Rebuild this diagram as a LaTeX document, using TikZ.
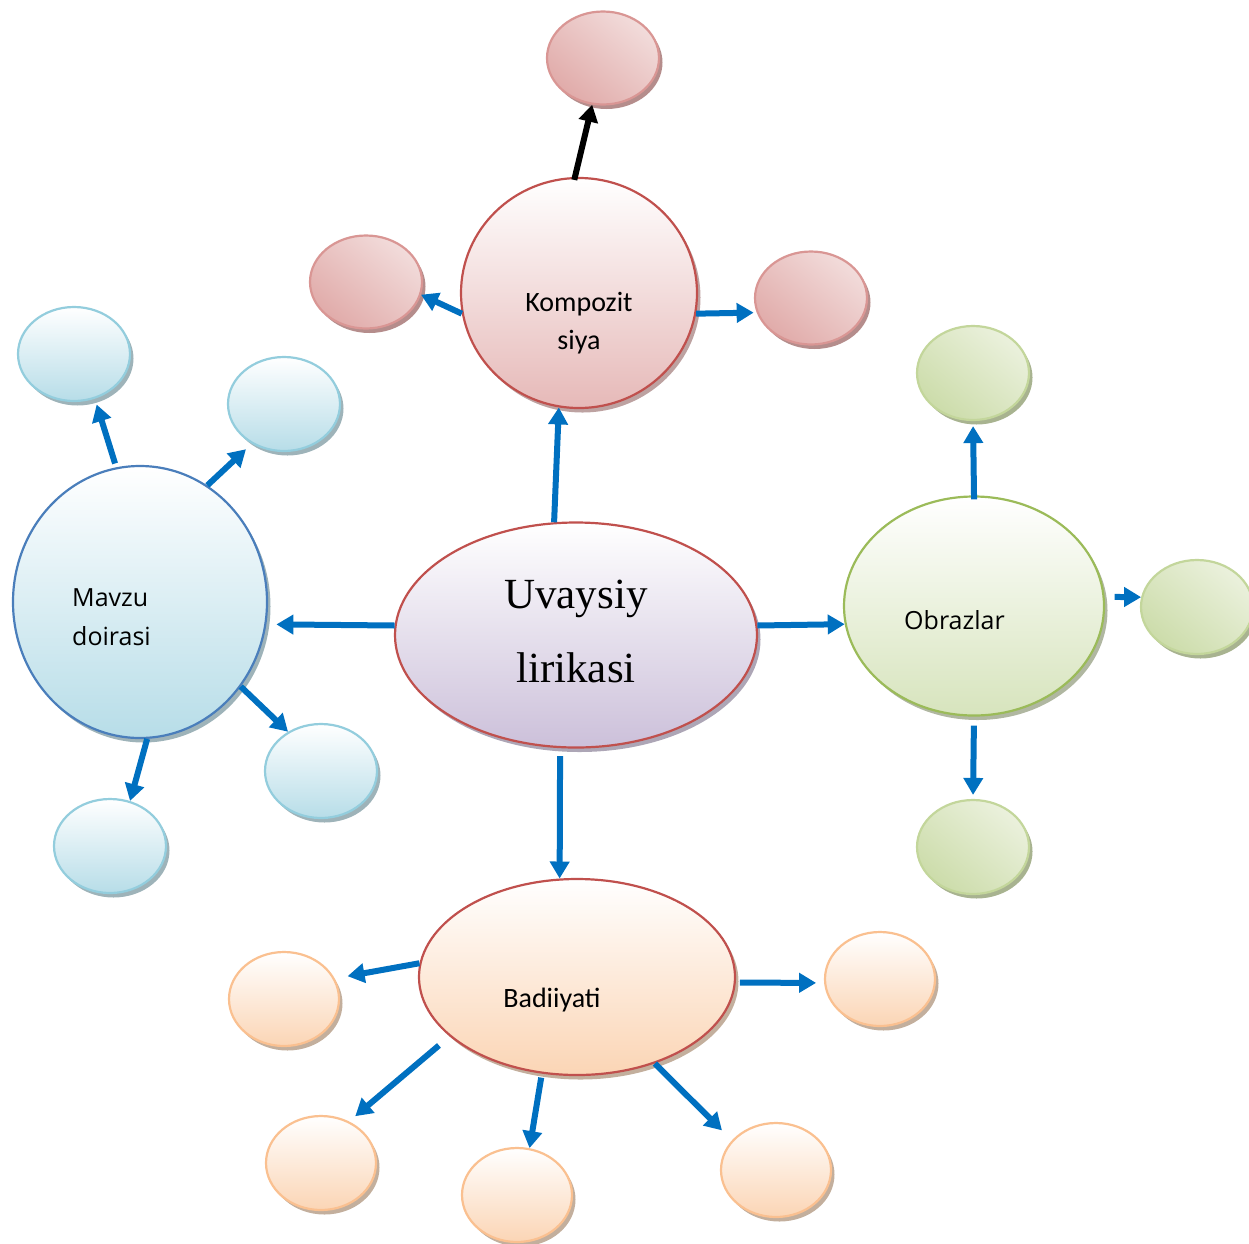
\documentclass[tikz,border=0pt]{standalone}
\usepackage{fontspec}
\setmainfont{Liberation Serif}
\newfontfamily\calfont{Carlito}
\newfontfamily\opfont{Open Sans}
\usetikzlibrary{shapes.geometric,arrows.meta,shadows}
\definecolor{redline}{HTML}{C0504D}
\definecolor{arrblue}{HTML}{0070C0}
\definecolor{lavender}{HTML}{CCC0DA}
\definecolor{pinkbot}{HTML}{E6B9B8}
\definecolor{pinklight}{HTML}{F2DCDB}
\definecolor{pinkdark}{HTML}{D99694}
\definecolor{blueline}{HTML}{4A7EBB}
\definecolor{bluebot}{HTML}{B7DDE8}
\definecolor{bluesm}{HTML}{93CDDD}
\definecolor{greenline}{HTML}{9BBB59}
\definecolor{greenbot}{HTML}{D7E4BD}
\definecolor{greenlight}{HTML}{EBF1DD}
\definecolor{greendark}{HTML}{C3D69B}
\definecolor{orbot}{HTML}{FBD5B5}
\definecolor{orline}{HTML}{FAC090}
\tikzset{
  blob/.style={ellipse, inner sep=0pt, line width=2.2pt},
  sh/.style={drop shadow={shadow xshift=3.5pt, shadow yshift=-4.5pt, fill=#1, opacity=1}},
  centernode/.style={blob, minimum width=362pt, minimum height=225pt, draw=redline,
     top color=white, bottom color=lavender, sh=lavender!60!gray},
  kompnode/.style={blob, minimum width=236pt, minimum height=230pt, draw=redline,
     top color=white, bottom color=pinkbot, sh=pinkbot!60!gray},
  pinksmall/.style={blob, minimum width=112pt, minimum height=93pt, draw=pinkdark,
     top color=pinklight, bottom color=pinkdark!80, shading angle=-40, sh=pinkdark!60!gray},
  mavnode/.style={blob, minimum width=254pt, minimum height=272pt, draw=blueline,
     top color=white, bottom color=bluebot, sh=bluebot!55!gray},
  bluesmall/.style={blob, minimum width=112pt, minimum height=94pt, draw=bluesm,
     top color=white, bottom color=bluebot, sh=bluebot!55!gray},
  obrnode/.style={blob, minimum width=260pt, minimum height=219pt, draw=greenline,
     top color=white, bottom color=greenbot, sh=greenbot!55!gray},
  greensmall/.style={blob, minimum width=112pt, minimum height=94pt, draw=greendark,
     top color=greenlight, bottom color=greendark!85, shading angle=-40, sh=greendark!60!gray},
  badnode/.style={blob, minimum width=316pt, minimum height=196pt, draw=redline,
     top color=white, bottom color=orbot, sh=orbot!55!gray},
  orsmall/.style={blob, minimum width=110pt, minimum height=94pt, draw=orline,
     top color=white, bottom color=orbot, sh=orbot!55!gray},
  arr/.style={line width=6pt, draw=arrblue, -{Triangle[length=17pt,width=19pt]}},
  blackarr/.style={line width=6pt, draw=black, -{Triangle[length=17pt,width=19pt]}},
  lbl/.style={inner sep=0pt},
}
\begin{document}
\begin{tikzpicture}[x=1pt,y=-1pt]
\useasboundingbox (0,0) rectangle (1249,1243);
\clip (0,0) rectangle (1249,1243);

% main nodes
\node[centernode] (c) at (576,635) {};
\node[kompnode] (k) at (579,293) {};
\node[mavnode] (m) at (140,602) {};
\node[obrnode] (o) at (974,606) {};
\node[badnode] (b) at (577,977) {};

% small pink
\node[pinksmall] (kt) at (603,58) {};
\node[pinksmall] (kl) at (366,282) {};
\node[pinksmall] (kr) at (811,298) {};
% small blue
\node[bluesmall] (mb1) at (74,354) {};
\node[bluesmall] (mb2) at (284,404) {};
\node[bluesmall] (mb3) at (321,771) {};
\node[bluesmall] (mb4) at (110,846) {};
% small green
\node[greensmall] (og1) at (973,373) {};
\node[greensmall] (og2) at (1197,607) {};
\node[greensmall] (og3) at (973,847) {};
% small orange
\node[orsmall] (bo1) at (284,999) {};
\node[orsmall] (bo2) at (880,979) {};
\node[orsmall] (bo3) at (321,1163) {};
\node[orsmall] (bo4) at (517,1195) {};
\node[orsmall] (bo5) at (776,1170) {};

% texts
\node[lbl, anchor=base] (ct1) at (576,608) {\fontsize{43}{50}\selectfont Uvaysiy};
\node[lbl, anchor=base] (ct2) at (576,682) {\fontsize{43}{50}\selectfont lirikasi};
\node[lbl, anchor=base] (kt1) at (579,311) {\calfont\fontsize{28}{34}\selectfont Kompozit};
\node[lbl, anchor=base] (kt2) at (579,349) {\calfont\fontsize{28}{34}\selectfont siya};
\node[lbl, anchor=base west] (mt1) at (72,606) {\opfont\fontsize{25}{30}\selectfont Mavzu};
\node[lbl, anchor=base west] (mt2) at (72,645) {\opfont\fontsize{25}{30}\selectfont doirasi};
\node[lbl, anchor=base west] (ot1) at (904,629) {\opfont\fontsize{25}{30}\selectfont Obrazlar};
\node[lbl, anchor=base] (bt1) at (552,1007) {\calfont\fontsize{28}{34}\selectfont Badiiyati};

% arrows from center
\draw[arr] (c.101) -- (k.-100);
\draw[arr, shorten >=10pt] (c.177) -- (m.-10);
\draw[arr] (c.3) -- (o.188);
\draw[arr, shorten <=8pt] (c.-98) -- (b.100);

% Kompozit
\draw[arr] (k.190) -- (kl.-13);
\draw[arr, shorten >=3pt] (k.-10) -- (kr.195);
\draw[blackarr, shorten <=-3pt] (k.92) -- (kt.-103);

% Mavzu
\draw[arr, shorten <=4pt, shorten >=6pt] (m.100) -- (mb1.-65);
\draw[arr, shorten >=8pt] (m.60) -- (mb2.-129);
\draw[arr] (m.-40) -- (mb3.130);
\draw[arr] (m.-87) -- (mb4.66);

% Obrazlar
\draw[arr, shorten <=-4pt, shorten >=5pt] (o.north) -- (og1.south);
\draw[arr, shorten <=10pt] (o.4) -- (og2.170);
\draw[arr, shorten <=9pt, shorten >=4pt] (o.south) -- (og3.north);

% Badiiyati
\draw[arr, shorten >=13pt] (b.175) -- (bo1.22);
\draw[arr, shorten <=4pt, shorten >=8pt] (b.-2) -- (bo2.184);
\draw[arr, shorten <=14pt, shorten >=8pt] (b.-155) -- (bo3.56);
\draw[arr, shorten <=4pt] (b.-110) -- (bo4.75);
\draw[arr, shorten >=14pt] (b.-48) -- (bo5.146);
\end{tikzpicture}
\end{document}
